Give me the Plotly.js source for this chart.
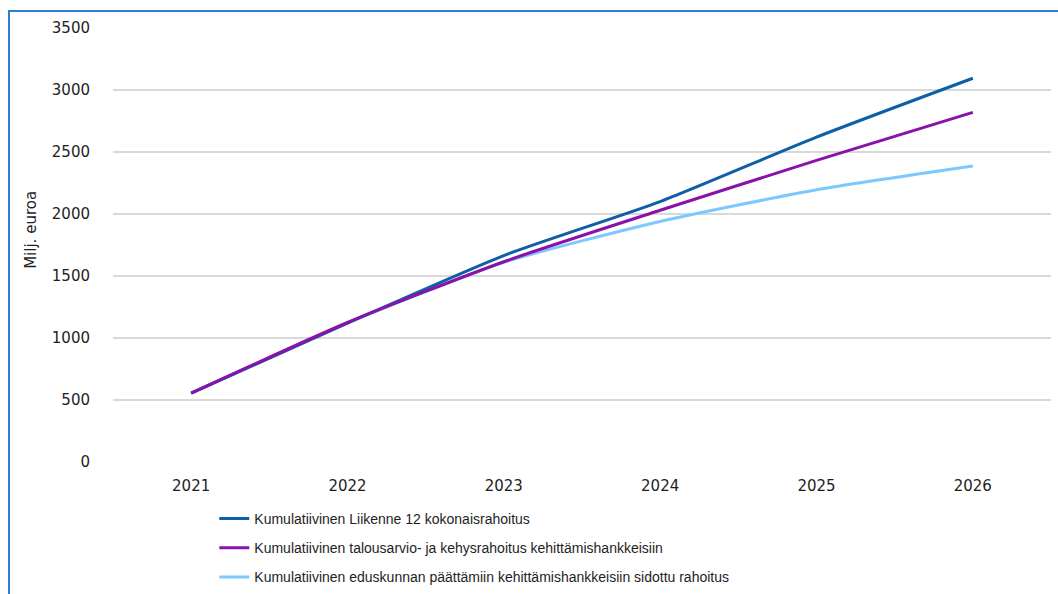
<!DOCTYPE html>
<html>
<head>
<meta charset="utf-8">
<script src="https://cdn.plot.ly/plotly-3.0.1.min.js"></script>
<style>
  html, body { margin: 0; padding: 0; background: #ffffff; }
  #frame { position: absolute; left: 8px; top: 10px; width: 1100px; height: 640px;
           border-left: 2px solid #2f7fd1; border-top: 2px solid #2f7fd1; box-sizing: border-box; }
  #chart { position: absolute; left: 0; top: 0; width: 1058px; height: 594px; }
</style>
</head>
<body>
<div id="frame"></div>
<div id="chart"></div>
<script>
const years = ['2021', '2022', '2023', '2024', '2025', '2026'];
const seriesNames = [
  'Kumulatiivinen Liikenne 12 kokonaisrahoitus',
  'Kumulatiivinen talousarvio- ja kehysrahoitus kehittämishankkeisiin',
  'Kumulatiivinen eduskunnan päättämiin kehittämishankkeisiin sidottu rahoitus'
];
const totalFunding = [555, 1120, 1665, 2100, 2620, 3095];
const budgetFunding = [555, 1125, 1615, 2030, 2432, 2820];
const committedFunding = [555, 1120, 1610, 1940, 2195, 2387];
const yTicks = [0, 500, 1000, 1500, 2000, 2500, 3000, 3500];

const colors = ['#0f5fa6', '#8a12a8', '#7cc8ff'];
const font = 'Liberation Sans, Arial, sans-serif';
const tickFontFamily = 'DejaVu Sans, Verdana, sans-serif';

function tr(y, i, rank) {
  return {
    x: years, y: y, type: 'scatter', mode: 'lines', name: seriesNames[i],
    line: { color: colors[i], width: 3, shape: 'spline', smoothing: 0.6 },
    legendrank: rank, legendgroup: 'g' + i, hoverinfo: 'skip'
  };
}

const data = [
  tr(committedFunding, 2, 3),
  tr(totalFunding, 0, 1),
  tr(budgetFunding, 1, 2)
];

const layout = {
  width: 1058, height: 594,
  margin: { l: 113, r: 7, t: 28, b: 132 },
  paper_bgcolor: 'rgba(0,0,0,0)', plot_bgcolor: 'rgba(0,0,0,0)',
  font: { family: font, size: 14, color: '#1e1e1e' },
  showlegend: true,
  legend: {
    orientation: 'v', xref: 'paper', yref: 'container',
    x: 0.108, xanchor: 'left', y: 0.1532, yanchor: 'top',
    traceorder: 'grouped', tracegroupgap: 8, itemwidth: 30,
    font: { family: font, size: 14, color: '#1e1e1e' }, bgcolor: 'rgba(0,0,0,0)'
  },
  xaxis: {
    type: 'category', range: [-0.5, 5.5], showgrid: false, zeroline: false, showline: false,
    ticks: '', ticklabelstandoff: 13, tickfont: { family: tickFontFamily, size: 15, color: '#1e1e1e' },
    fixedrange: true
  },
  yaxis: {
    range: [0, 3500], tickvals: yTicks, ticktext: yTicks.map(String),
    showgrid: true, gridcolor: '#d9d9d9', gridwidth: 1.5, zeroline: false, showline: false,
    ticks: '', ticklabelstandoff: 22, tickfont: { family: tickFontFamily, size: 15, color: '#1e1e1e' },
    fixedrange: true
  },
  annotations: [{
    text: 'Milj. euroa', xref: 'paper', yref: 'paper',
    x: -0.0874, y: 0.535, xanchor: 'center', yanchor: 'middle',
    textangle: -90, showarrow: false, font: { family: tickFontFamily, size: 15, color: '#1e1e1e' }
  }]
};

Plotly.newPlot('chart', data, layout, { displayModeBar: false, staticPlot: true });
</script>
</body>
</html>
